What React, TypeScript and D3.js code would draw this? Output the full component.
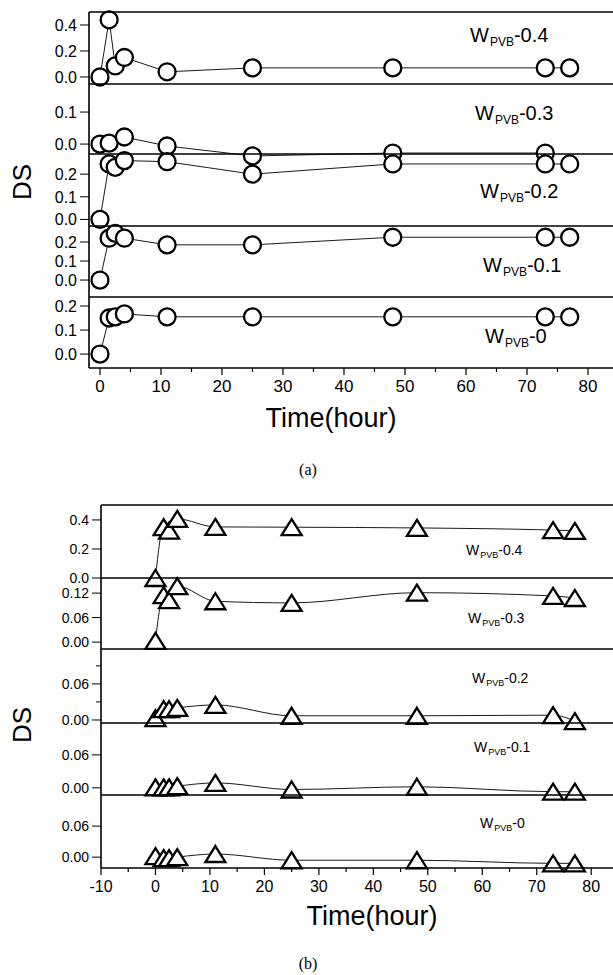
import { useEffect, useRef } from 'react';
import * as d3 from 'd3';

// sampling times (hours)
const timesA = [0, 1.5, 2.5, 4, 11, 25, 48, 73, 77];
const timesA03 = [0, 1.5, 4, 11, 25, 48, 73];
const timesB = [0, 1.5, 2.5, 4, 11, 25, 48, 73, 77];

// (a) DS values, circles
const dsA04 = [0.0, 0.44, 0.085, 0.15, 0.04, 0.07, 0.07, 0.07, 0.07];
const dsA03 = [0.0, 0.003, 0.022, -0.006, -0.037, -0.028, -0.028];
const dsA02 = [0.0, 0.245, 0.23, 0.26, 0.255, 0.2, 0.245, 0.245, 0.245];
const dsA01 = [0.0, 0.22, 0.245, 0.22, 0.185, 0.185, 0.225, 0.225, 0.225];
const dsA00 = [0.0, 0.15, 0.155, 0.167, 0.155, 0.155, 0.155, 0.155, 0.155];

// (b) DS values, triangles
const dsB04 = [0.0, 0.35, 0.326, 0.407, 0.352, 0.35, 0.345, 0.33, 0.325];
const dsB03 = [0.003, 0.115, 0.103, 0.137, 0.1, 0.096, 0.121, 0.113, 0.108];
const dsB02 = [0.003, 0.018, 0.018, 0.02, 0.025, 0.007, 0.007, 0.008, -0.002];
const dsB01 = [0.001, 0.001, 0.001, 0.003, 0.009, -0.003, 0.002, -0.007, -0.007];
const dsB00 = [0.002, -0.002, -0.002, 0.0, 0.006, -0.006, -0.006, -0.012, -0.012];

const xTicksA = [0, 10, 20, 30, 40, 50, 60, 70, 80];
const xTicksB = [-10, 0, 10, 20, 30, 40, 50, 60, 70, 80];

const FONT = 'Liberation Sans, Arial, Helvetica, sans-serif';

type Panel = {
  top: number;
  bottom: number;
  domain: [number, number];
  ticks: number[];
  minor?: number[];
  fmt: string;
  name: string;
  lx: number;
  ly: number;
  times: number[];
  values: number[];
};

type Chart = {
  left: number;
  right: number;
  xDomain: [number, number];
  xTicks: number[];
  marker: 'circle' | 'triangle';
  curve: d3.CurveFactory;
  labelSize: number;
  subSize: number;
  tickSize: number;
  xTickSize: number;
  xLabelX: number;
  xLabelY: number;
  dsY: number;
  caption: string;
  captionY: number;
  panels: Panel[];
};

const chartA: Chart = {
  left: 89,
  right: 613,
  xDomain: [-1.8, 84.1],
  xTicks: xTicksA,
  marker: 'circle',
  curve: d3.curveLinear,
  labelSize: 20,
  subSize: 12,
  tickSize: 16,
  xTickSize: 17,
  xLabelX: 331,
  xLabelY: 427,
  dsY: 182,
  caption: '(a)',
  captionY: 475,
  panels: [
    { top: 12, bottom: 84, domain: [-0.054, 0.5], ticks: [0, 0.2, 0.4], fmt: '.1f', name: '-0.4', lx: 470, ly: 42, times: timesA, values: dsA04 },
    { top: 84, bottom: 154, domain: [-0.031, 0.1875], ticks: [0, 0.1], fmt: '.1f', name: '-0.3', lx: 475, ly: 120, times: timesA03, values: dsA03 },
    { top: 154, bottom: 226, domain: [-0.029, 0.289], ticks: [0, 0.1, 0.2], fmt: '.1f', name: '-0.2', lx: 480, ly: 198, times: timesA, values: dsA02 },
    { top: 226, bottom: 297, domain: [-0.089, 0.284], ticks: [0, 0.1, 0.2], fmt: '.1f', name: '-0.1', lx: 483, ly: 272, times: timesA, values: dsA01 },
    { top: 297, bottom: 368, domain: [-0.058, 0.2375], ticks: [0, 0.1, 0.2], fmt: '.1f', name: '-0', lx: 485, ly: 343, times: timesA, values: dsA00 },
  ],
};

const chartB: Chart = {
  left: 101,
  right: 613,
  xDomain: [-10, 84],
  xTicks: xTicksB,
  marker: 'triangle',
  curve: d3.curveMonotoneX,
  labelSize: 14,
  subSize: 9,
  tickSize: 14,
  xTickSize: 16,
  xLabelX: 372,
  xLabelY: 925,
  dsY: 725,
  caption: '(b)',
  captionY: 969,
  panels: [
    { top: 505, bottom: 578, domain: [0, 0.503], ticks: [0, 0.2, 0.4], fmt: '.1f', name: '-0.4', lx: 466, ly: 555, times: timesB, values: dsB04 },
    { top: 578, bottom: 649, domain: [-0.017, 0.157], ticks: [0, 0.06, 0.12], fmt: '.2f', name: '-0.3', lx: 468, ly: 623, times: timesB, values: dsB03 },
    { top: 649, bottom: 723, domain: [-0.005, 0.118], ticks: [0, 0.06], minor: [0.03, 0.09], fmt: '.2f', name: '-0.2', lx: 472, ly: 683, times: timesB, values: dsB02 },
    { top: 723, bottom: 795, domain: [-0.013, 0.118], ticks: [0, 0.06], fmt: '.2f', name: '-0.1', lx: 474, ly: 752, times: timesB, values: dsB01 },
    { top: 795, bottom: 868, domain: [-0.021, 0.12], ticks: [0, 0.06], fmt: '.2f', name: '-0', lx: 480, ly: 828, times: timesB, values: dsB00 },
  ],
};

const drawChart = (svg: d3.Selection<SVGSVGElement, unknown, null, undefined>, c: Chart) => {
  const g = svg.append('g');
  const x = d3.scaleLinear().domain(c.xDomain).range([c.left, c.right]);
  const top = c.panels[0].top;
  const bottom = c.panels[c.panels.length - 1].bottom;

  // connecting lines under the markers
  const lines = g.append('g');
  const marks = g.append('g');

  c.panels.forEach(p => {
    const y = d3.scaleLinear().domain(p.domain).range([p.bottom, p.top]);
    const pts = p.times.map((t, i) => [t, p.values[i]] as [number, number]);

    // panel top border
    g.append('line')
      .attr('x1', c.left)
      .attr('x2', c.right)
      .attr('y1', p.top)
      .attr('y2', p.top)
      .attr('stroke', '#000')
      .attr('stroke-width', 1.6);

    // y ticks
    p.ticks.forEach(v => {
      g.append('line')
        .attr('x1', c.left - 9)
        .attr('x2', c.left)
        .attr('y1', y(v))
        .attr('y2', y(v))
        .attr('stroke', '#000')
        .attr('stroke-width', 1);
      g.append('text')
        .attr('x', c.left - 12)
        .attr('y', y(v))
        .attr('dy', '0.36em')
        .attr('text-anchor', 'end')
        .attr('font-family', FONT)
        .attr('font-size', c.tickSize)
        .text(d3.format(p.fmt)(v));
    });
    (p.minor || []).forEach(v => {
      g.append('line')
        .attr('x1', c.left - 5)
        .attr('x2', c.left)
        .attr('y1', y(v))
        .attr('y2', y(v))
        .attr('stroke', '#000')
        .attr('stroke-width', 1);
    });

    const line = d3
      .line<[number, number]>()
      .x(d => x(d[0]))
      .y(d => y(d[1]))
      .curve(c.curve);

    lines
      .append('path')
      .attr('d', line(pts))
      .attr('fill', 'none')
      .attr('stroke', '#000')
      .attr('stroke-width', 0.9);

    pts.forEach(d => {
      if (c.marker === 'circle') {
        marks
          .append('circle')
          .attr('cx', x(d[0]))
          .attr('cy', y(d[1]))
          .attr('r', 8.5)
          .attr('fill', '#fff')
          .attr('stroke', '#000')
          .attr('stroke-width', 2.3);
      } else {
        const w = 20;
        const h = 16;
        marks
          .append('path')
          .attr('transform', `translate(${x(d[0])},${y(d[1])})`)
          .attr('d', `M0,${-h / 2}L${w / 2},${h / 2}L${-w / 2},${h / 2}Z`)
          .attr('fill', '#fff')
          .attr('stroke', '#000')
          .attr('stroke-width', 2.3)
          .attr('stroke-linejoin', 'miter');
      }
    });

    // W_PVB label
    const lab = g
      .append('text')
      .attr('x', p.lx)
      .attr('y', p.ly)
      .attr('font-family', FONT)
      .attr('font-size', c.labelSize);
    lab.append('tspan').text('W');
    lab
      .append('tspan')
      .attr('dx', 1)
      .attr('dy', c.subSize * 0.35)
      .attr('font-size', c.subSize)
      .text('PVB');
    lab
      .append('tspan')
      .attr('dy', -c.subSize * 0.35)
      .text(p.name);
  });

  // left axis and bottom axis
  g.append('line')
    .attr('x1', c.left)
    .attr('x2', c.left)
    .attr('y1', top)
    .attr('y2', bottom)
    .attr('stroke', '#000')
    .attr('stroke-width', 1.6);
  g.append('line')
    .attr('x1', c.left)
    .attr('x2', c.right)
    .attr('y1', bottom)
    .attr('y2', bottom)
    .attr('stroke', '#000')
    .attr('stroke-width', 1.6);

  c.xTicks.forEach(t => {
    g.append('line')
      .attr('x1', x(t))
      .attr('x2', x(t))
      .attr('y1', bottom)
      .attr('y2', bottom + 7)
      .attr('stroke', '#000')
      .attr('stroke-width', 1.2);
    g.append('text')
      .attr('x', x(t))
      .attr('y', bottom + 24)
      .attr('text-anchor', 'middle')
      .attr('font-family', FONT)
      .attr('font-size', c.xTickSize)
      .text(t);
    const m = t + 5;
    if (x(m) < c.right) {
      g.append('line')
        .attr('x1', x(m))
        .attr('x2', x(m))
        .attr('y1', bottom)
        .attr('y2', bottom + 4)
        .attr('stroke', '#000')
        .attr('stroke-width', 1.2);
    }
  });

  g.append('text')
    .attr('x', c.xLabelX)
    .attr('y', c.xLabelY)
    .attr('text-anchor', 'middle')
    .attr('font-family', FONT)
    .attr('font-size', 27)
    .text('Time(hour)');

  g.append('text')
    .attr('transform', `translate(31,${c.dsY}) rotate(-90)`)
    .attr('text-anchor', 'middle')
    .attr('font-family', FONT)
    .attr('font-size', 26)
    .text('DS');

  g.append('text')
    .attr('x', 308)
    .attr('y', c.captionY)
    .attr('text-anchor', 'middle')
    .attr('font-family', 'Liberation Serif, Times New Roman, serif')
    .attr('font-size', 16)
    .text(c.caption);
};

const App = () => {
  const svgRef = useRef<SVGSVGElement>(null);

  useEffect(() => {
    const svg = d3.select(svgRef.current as SVGSVGElement);
    svg.selectAll('*').remove();
    svg.append('rect').attr('width', 613).attr('height', 975).attr('fill', '#fff');
    drawChart(svg, chartA);
    drawChart(svg, chartB);
  }, []);

  return (
    <svg
      ref={svgRef}
      width={613}
      height={975}
      style={{ position: 'absolute', left: 0, top: 0 }}
    />
  );
};

export default App;
